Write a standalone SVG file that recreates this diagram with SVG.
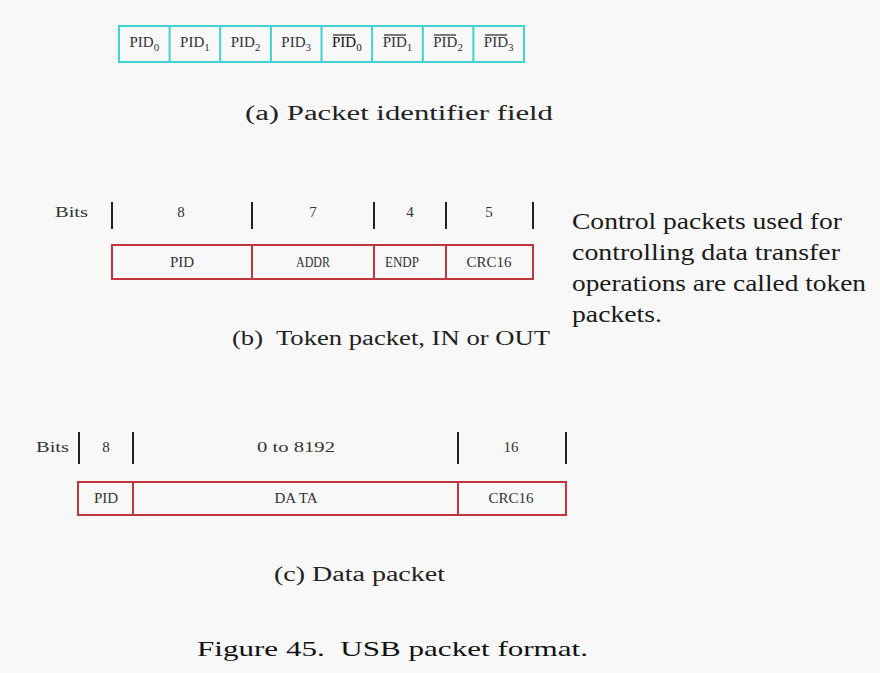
<svg xmlns="http://www.w3.org/2000/svg" width="880" height="673" viewBox="0 0 880 673">
<style>
.bg{fill:#f8f8f8}
.cy{fill:none;stroke:#3fd3d3;stroke-width:2}
.rd{fill:none;stroke:#c0363c;stroke-width:2}
.tk{stroke:#222;stroke-width:2}
.m{font-family:"Liberation Serif","DejaVu Serif",serif;fill:#333}
.s{font-size:15px}
.cap{font-size:20px;fill:#222}
.fig{font-size:22px;fill:#111}
.side{font-family:"Liberation Serif","DejaVu Serif",serif;font-size:23px;fill:#1a1a1a}
.ov{stroke:#333;stroke-width:1.3}
</style>
<rect class="bg" width="880" height="673"/>

<g id="pid-field">
<rect class="cy" x="119" y="26" width="405" height="36"/>
<g class="cy">
<line x1="169.6" y1="26" x2="169.6" y2="62"/>
<line x1="220.2" y1="26" x2="220.2" y2="62"/>
<line x1="270.9" y1="26" x2="270.9" y2="62"/>
<line x1="321.5" y1="26" x2="321.5" y2="62"/>
<line x1="372.1" y1="26" x2="372.1" y2="62"/>
<line x1="422.8" y1="26" x2="422.8" y2="62"/>
<line x1="473.4" y1="26" x2="473.4" y2="62"/>
</g>
<g class="m s" text-anchor="middle">
<text x="144.3" y="47">PID<tspan font-size="11" dy="4">0</tspan></text>
<text x="194.9" y="47">PID<tspan font-size="11" dy="4">1</tspan></text>
<text x="245.6" y="47">PID<tspan font-size="11" dy="4">2</tspan></text>
<text x="296.2" y="47">PID<tspan font-size="11" dy="4">3</tspan></text>
<text x="346.8" y="47" fill="#111">PID<tspan font-size="11" dy="4">0</tspan></text>
<text x="397.5" y="47">PID<tspan font-size="11" dy="4">1</tspan></text>
<text x="448.1" y="47">PID<tspan font-size="11" dy="4">2</tspan></text>
<text x="498.7" y="47">PID<tspan font-size="11" dy="4">3</tspan></text>
</g>
<g class="ov">
<line x1="333" y1="35" x2="355" y2="35"/>
<line x1="384" y1="35" x2="406" y2="35"/>
<line x1="434" y1="35" x2="456" y2="35"/>
<line x1="485" y1="35" x2="507" y2="35"/>
</g>
</g>
<text id="cap-a" class="m cap" x="245" y="120" textLength="308" lengthAdjust="spacingAndGlyphs">(a) Packet identifier field</text>

<g id="token-bits">
<text class="m s" x="55" y="217" textLength="33" lengthAdjust="spacingAndGlyphs">Bits</text>
<g class="tk">
<line x1="112" y1="202" x2="112" y2="229"/>
<line x1="252" y1="202" x2="252" y2="229"/>
<line x1="374" y1="202" x2="374" y2="229"/>
<line x1="446" y1="202" x2="446" y2="229"/>
<line x1="533" y1="202" x2="533" y2="229"/>
</g>
<g class="m s" text-anchor="middle">
<text x="181" y="217">8</text>
<text x="313" y="217">7</text>
<text x="410" y="217">4</text>
<text x="489" y="217">5</text>
</g>
</g>
<g id="token-packet">
<rect class="rd" x="112" y="245" width="421" height="34"/>
<g class="rd">
<line x1="252" y1="245" x2="252" y2="279"/>
<line x1="374" y1="245" x2="374" y2="279"/>
<line x1="446" y1="245" x2="446" y2="279"/>
</g>
<g class="m s" text-anchor="middle">
<text x="182" y="267">PID</text>
<text x="313" y="267" textLength="34" lengthAdjust="spacingAndGlyphs">ADDR</text>
<text x="402" y="267" textLength="34" lengthAdjust="spacingAndGlyphs">ENDP</text>
<text x="489" y="267">CRC16</text>
</g>
</g>
<text id="cap-b" class="m cap" x="232" y="345" xml:space="preserve" textLength="318" lengthAdjust="spacingAndGlyphs">(b)  Token packet, IN or OUT</text>

<g id="note" class="side">
<text x="572" y="229" textLength="270" lengthAdjust="spacingAndGlyphs">Control packets used for</text>
<text x="572" y="260" textLength="268" lengthAdjust="spacingAndGlyphs">controlling data transfer</text>
<text x="572" y="291" textLength="294" lengthAdjust="spacingAndGlyphs">operations are called token</text>
<text x="572" y="322" textLength="90" lengthAdjust="spacingAndGlyphs">packets.</text>
</g>

<g id="data-bits">
<text class="m s" x="36" y="452" textLength="33" lengthAdjust="spacingAndGlyphs">Bits</text>
<g class="tk">
<line x1="79" y1="432" x2="79" y2="464"/>
<line x1="133" y1="432" x2="133" y2="464"/>
<line x1="458" y1="432" x2="458" y2="464"/>
<line x1="566" y1="432" x2="566" y2="464"/>
</g>
<g class="m s" text-anchor="middle">
<text x="106" y="452">8</text>
<text x="296" y="452" textLength="78" lengthAdjust="spacingAndGlyphs">0 to 8192</text>
<text x="511" y="452">16</text>
</g>
</g>
<g id="data-packet">
<rect class="rd" x="78" y="482" width="488" height="33"/>
<g class="rd">
<line x1="133" y1="482" x2="133" y2="515"/>
<line x1="458" y1="482" x2="458" y2="515"/>
</g>
<g class="m s" text-anchor="middle">
<text x="106" y="503">PID</text>
<text x="296" y="503" xml:space="preserve">DA TA</text>
<text x="511" y="503">CRC16</text>
</g>
</g>
<text id="cap-c" class="m cap" x="274" y="581" textLength="171" lengthAdjust="spacingAndGlyphs">(c) Data packet</text>
<text id="fig" class="m fig" x="197" y="656" xml:space="preserve" textLength="391" lengthAdjust="spacingAndGlyphs">Figure 45.  USB packet format.</text>
</svg>
